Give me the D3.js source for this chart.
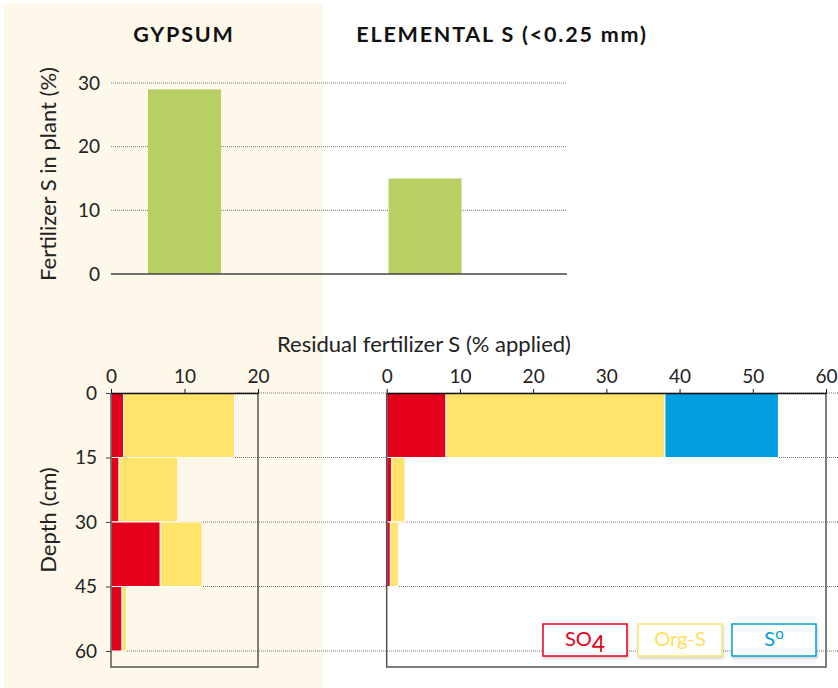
<!DOCTYPE html>
<html>
<head>
<meta charset="utf-8">
<script src="https://cdn.jsdelivr.net/npm/d3@7"></script>
<style>
  body { margin: 0; background: #fff; }
  svg { display: block; font-family: "Lato", "Open Sans", sans-serif; }
</style>
</head>
<body>
<div id="chart"></div>
<script>
// top chart: fertilizer S taken up by plant
var plantCats = ["GYPSUM", "ELEMENTAL S (<0.25 mm)"];
var plantS = [29, 15];
var plantTicks = [0, 10, 20, 30];

// bottom charts: residual fertilizer S by depth (% applied)
var depthTicks = [0, 15, 30, 45, 60];
var depthBands = [[0, 15], [15, 30], [30, 45], [45, 60]];
var gypSO4  = [1.7, 1.1, 6.7, 1.5];
var gypOrgS = [15.1, 8.0, 5.7, 0.6];
var gypS0   = [0, 0, 0, 0];
var elSO4   = [8.1, 0.7, 0.5, 0];
var elOrgS  = [29.9, 1.8, 1.1, 0];
var elS0    = [15.5, 0, 0, 0];
var legendNames = ["SO4", "Org-S", "S0"];
var colors = ["#e2001a", "#ffe36b", "#009ee0"];

var svg = d3.select("#chart").append("svg")
    .attr("width", 838).attr("height", 688);

var defs = svg.append("defs");
var f = defs.append("filter").attr("id", "shadow").attr("x", "-20%").attr("y", "-20%").attr("width", "140%").attr("height", "150%");
f.append("feDropShadow").attr("dx", 1).attr("dy", 2).attr("stdDeviation", 1.5).attr("flood-color", "#000").attr("flood-opacity", 0.18);

// beige panel behind gypsum
svg.append("rect").attr("x", 4).attr("y", 3).attr("width", 319).attr("height", 685).attr("fill", "#fdf8ea");

// ---- top chart
var yTop = d3.scaleLinear().domain([0, 30]).range([274, 83]);
var xTop = d3.scalePoint().domain(plantCats).range([184.5, 425]);
var barW = 73;

svg.append("g").selectAll("line").data(plantTicks.slice(1)).enter().append("line")
    .attr("x1", 111).attr("x2", 567)
    .attr("y1", d => yTop(d)).attr("y2", d => yTop(d))
    .attr("stroke", "#777").attr("stroke-width", 1).attr("stroke-dasharray", "1,1");

svg.append("g").selectAll("rect").data(plantS).enter().append("rect")
    .attr("x", (d, i) => xTop(plantCats[i]) - barW / 2)
    .attr("width", barW)
    .attr("y", d => yTop(d))
    .attr("height", d => yTop(0) - yTop(d))
    .attr("fill", "#b8cf63");

svg.append("line").attr("x1", 111).attr("x2", 567).attr("y1", yTop(0)).attr("y2", yTop(0))
    .attr("stroke", "#444").attr("stroke-width", 1.5);

svg.append("g").selectAll("text").data(plantTicks).enter().append("text")
    .attr("x", 100).attr("y", d => yTop(d)).attr("dy", "0.35em")
    .attr("text-anchor", "end").attr("font-size", 19).attr("fill", "#222")
    .text(d => d);

svg.append("text").attr("transform", "translate(56,174) rotate(-90)")
    .attr("text-anchor", "middle").attr("font-size", 22).attr("fill", "#222")
    .text("Fertilizer S in plant (%)");

var titleX = [184, 502];
svg.append("g").selectAll("text").data(plantCats).enter().append("text")
    .attr("x", (d, i) => titleX[i]).attr("y", 42)
    .attr("text-anchor", "middle").attr("font-size", 21.5).attr("font-weight", "bold")
    .attr("letter-spacing", 1.8).attr("fill", "#111")
    .text(d => d);

// ---- bottom charts
var yD = d3.scaleLinear().domain([0, 60]).range([393, 651]);
var boxBottom = 667;
var xL = d3.scaleLinear().domain([0, 20]).range([111, 258]);
var xR = d3.scaleLinear().domain([0, 60]).range([386.7, 826]);

svg.append("text").attr("x", 424).attr("y", 352).attr("text-anchor", "middle")
    .attr("font-size", 22).attr("fill", "#222").text("Residual fertilizer S (% applied)");

// dotted depth gridlines
svg.append("g").selectAll("line").data(depthTicks).enter().append("line")
    .attr("x1", 111).attr("x2", 838)
    .attr("y1", d => yD(d)).attr("y2", d => yD(d))
    .attr("stroke", "#777").attr("stroke-width", 1).attr("stroke-dasharray", "1,1");

function stackPanel(x, so4, orgs, s0) {
  var rows = depthBands.map(function(b, i) {
    return {band: b, vals: [so4[i], orgs[i], s0[i]]};
  });
  var g = svg.append("g");
  rows.forEach(function(r) {
    var cum = 0;
    r.vals.forEach(function(v, k) {
      if (v > 0) {
        g.append("rect")
          .attr("x", x(cum)).attr("width", x(cum + v) - x(cum))
          .attr("y", yD(r.band[0])).attr("height", yD(r.band[1]) - yD(r.band[0]))
          .attr("fill", colors[k]).attr("stroke", "#fff").attr("stroke-width", 1);
      }
      cum += v;
    });
  });
  // box
  var x0 = x.range()[0], x1 = x.range()[1];
  g.append("path")
    .attr("d", "M" + x0 + "," + yD(0) + "V" + boxBottom + "H" + x1 + "V" + yD(0))
    .attr("fill", "none").attr("stroke", "#555").attr("stroke-width", 1.5);
  var ax = d3.axisTop(x).ticks(x.domain()[1] / 10).tickSize(4).tickSizeOuter(0).tickPadding(6);
  var a = g.append("g").attr("transform", "translate(0," + yD(0) + ")").call(ax);
  a.select(".domain").attr("stroke", "#111").attr("stroke-width", 1.5);
  a.selectAll(".tick line").attr("stroke", "#111");
  a.selectAll("text").attr("font-size", 19).attr("fill", "#222").attr("font-family", "Lato, sans-serif");
}

stackPanel(xL, gypSO4, gypOrgS, gypS0);
stackPanel(xR, elSO4, elOrgS, elS0);

// depth axis
var dAx = d3.axisLeft(yD).tickValues(depthTicks).tickSize(5).tickPadding(9);
var dg = svg.append("g").attr("transform", "translate(111,0)").call(dAx);
dg.select(".domain").remove();
dg.selectAll(".tick line").attr("stroke", "#444");
dg.selectAll("text").attr("font-size", 19).attr("fill", "#222").attr("font-family", "Lato, sans-serif");

svg.append("text").attr("transform", "translate(56,520) rotate(-90)")
    .attr("text-anchor", "middle").attr("font-size", 22).attr("fill", "#222")
    .text("Depth (cm)");

// legend
var legX = [543, 638, 732];
var lg = svg.append("g").selectAll("g").data(legendNames).enter().append("g")
    .attr("transform", (d, i) => "translate(" + legX[i] + ",624)");
lg.append("rect").attr("width", 84).attr("height", 32).attr("fill", "#fff")
    .attr("stroke", (d, i) => colors[i]).attr("stroke-width", 1.5).attr("filter", "url(#shadow)");
var lt = lg.append("text").attr("x", 42).attr("y", 22).attr("text-anchor", "middle")
    .attr("font-size", 20).attr("fill", (d, i) => colors[i] === "#ffe36b" ? "#ffde5a" : colors[i]);
lt.each(function(d) {
  var t = d3.select(this);
  if (d === "SO4") {
    t.append("tspan").text("SO");
    t.append("tspan").attr("dy", 6).attr("font-size", 23).text("4");
  } else if (d === "S0") {
    t.append("tspan").text("S");
    t.append("tspan").attr("dy", -7).attr("font-size", 15).text("o");
  } else {
    t.text(d);
  }
});
</script>
</body>
</html>
